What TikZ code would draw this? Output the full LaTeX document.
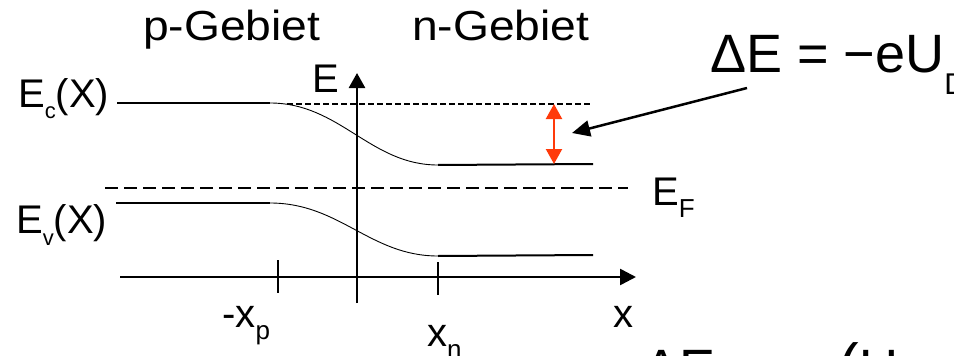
\documentclass[tikz,border=0pt]{standalone}
\usepackage{fontspec}
\setmainfont{Liberation Sans}
\usetikzlibrary{arrows.meta}
\newcommand{\fsz}[1]{\fontsize{#1}{#1}\selectfont}
\newcommand{\lowsub}[3]{\raisebox{-#2pt}{\fsz{#1}#3}}
\newcommand{\widetxt}[1]{\scalebox{1.1}[1]{#1}}
\definecolor{arrred}{HTML}{FF3A0A}
\begin{document}
\begin{tikzpicture}[x=1pt,y=-1pt,
  lbl/.style={inner sep=0pt, anchor=base west, font=\fsz{40}},
  region/.style={inner sep=0pt, anchor=base west, font=\fsz{42}},
  big/.style={inner sep=0pt, anchor=base west, font=\fsz{54}},
  band/.style={line width=2pt},
  bendline/.style={line width=0.9pt},
  axisline/.style={line width=2.6pt},
  tick/.style={line width=2.4pt},
  fermi/.style={line width=2pt, dash pattern=on 13pt off 6pt},
  dotline/.style={line width=1.6pt, dash pattern=on 6pt off 3pt}]
\useasboundingbox (0,0) rectangle (954,356);
\clip (0,0) rectangle (954,356);

% coordinates
\coordinate (ecl) at (117,103);
\coordinate (ecm) at (270,103);
\coordinate (ecn) at (438,165);
\coordinate (ecr) at (593,164);
\coordinate (evl) at (116,203);
\coordinate (evm) at (270,203);
\coordinate (evn) at (438,256);
\coordinate (evr) at (593,255);
\coordinate (dotl) at (287,104);
\coordinate (dotr) at (590,104);
\coordinate (efl) at (105,188);
\coordinate (efr) at (628,188);
\coordinate (xl) at (120,277);
\coordinate (xr) at (636,277);
\coordinate (eb) at (357,303);
\coordinate (et) at (357,73);
\coordinate (t1a) at (278,260);
\coordinate (t1b) at (278,293);
\coordinate (t2a) at (438,262);
\coordinate (t2b) at (438,295);
\coordinate (r1) at (554,104);
\coordinate (r2) at (554,164);
\coordinate (bs) at (747,88);
\coordinate (be) at (572,133);

% bands
\draw[band] (ecl) -- (ecm);
\draw[bendline] (ecm) .. controls (340,103) and (370,165) .. (ecn);
\draw[band] (ecn) -- (ecr);
\draw[band] (evl) -- (evm);
\draw[bendline] (evm) .. controls (340,203) and (370,256) .. (evn);
\draw[band] (evn) -- (evr);
\draw[dotline] (dotl) -- (dotr);
\draw[fermi] (efl) -- (efr);

% axes
\draw[axisline,-{Triangle[length=16pt,width=16pt]}] (xl) -- (xr);
\draw[axisline,-{Triangle[length=15pt,width=16pt]}] (eb) -- (et);
\draw[tick] (t1a) -- (t1b);
\draw[tick] (t2a) -- (t2b);

% arrows
\draw[line width=2.2pt, arrred, {Triangle[length=15pt,width=16pt]}-{Triangle[length=15pt,width=16pt]}] (r1) -- (r2);
\draw[line width=2.5pt, -{Triangle[length=18pt,width=16pt]}] (bs) -- (be);

% labels
\node[region] (pg) at (143,40) {\widetxt{p-Gebiet}};
\node[region] (ng) at (412,40) {\widetxt{n-Gebiet}};
\node[lbl] (ec) at (18,107) {E\lowsub{22}{11}{c}(X)};
\node[lbl] (ev) at (16,233) {E\lowsub{22}{12}{v}(X)};
\node[lbl] (ef) at (652,205) {E\lowsub{26}{12}{F}};
\node[lbl] (el) at (312,92) {E};
\node[lbl] (xp) at (222,327) {-x\lowsub{26}{12}{p}};
\node[lbl] (xn) at (427,346) {x\lowsub{26}{12}{n}};
\node[lbl] (xx) at (613,327) {x};
\node[big] (de) at (710,72) {ΔE = −eU\lowsub{30}{22}{D}};
\node[big] (de2) at (643,387) {ΔE = −e{\fsz{62}(}U\lowsub{30}{22}{D} − U{\fsz{62})}};
\end{tikzpicture}
\end{document}
